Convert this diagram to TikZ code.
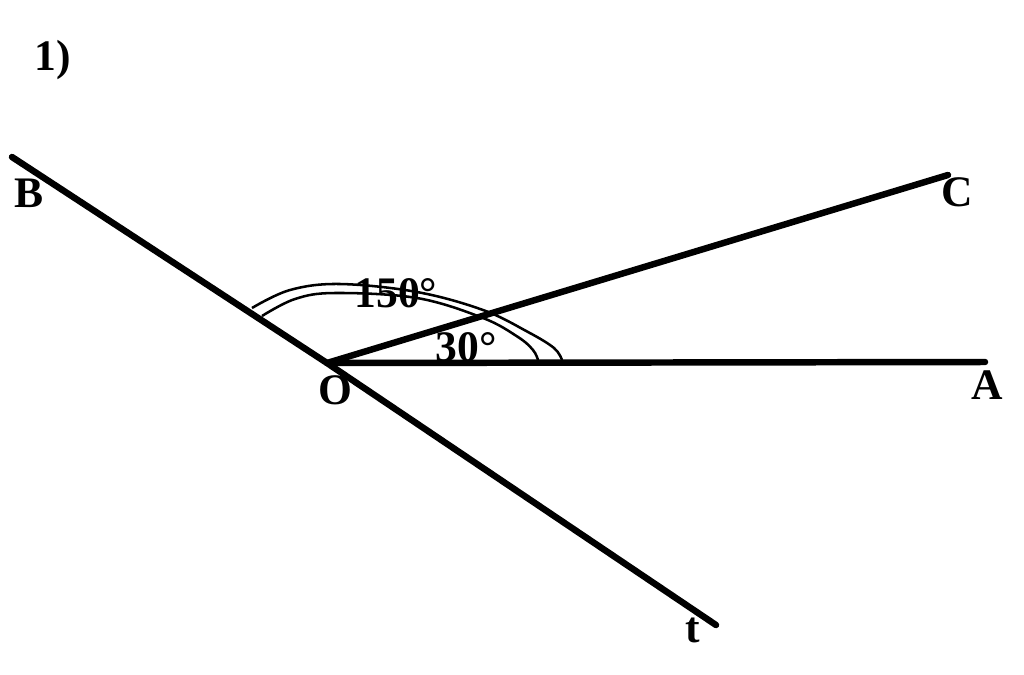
\documentclass[tikz,border=0pt]{standalone}
\usepackage{fontspec}
\setmainfont{Liberation Serif}
\usetikzlibrary{calc}

\begin{document}
\begin{tikzpicture}[x=0.25mm,y=-0.25mm]
\tikzset{ray/.style={black,line width=4.6pt,line cap=round},
 arcline/.style={black,line width=1.8pt},
 lbl/.style={font=\fontsize{31}{31}\selectfont\bfseries,inner sep=0}}
\useasboundingbox (0,0) rectangle (1024,674);
% points
\coordinate (O) at (327,363);
\coordinate (A) at (985,362);
\coordinate (B) at (12,157);
\coordinate (C) at (948,175);
\coordinate (T) at (716,625);
% rays
\draw[ray] (B) -- (O) -- (T);
\draw[ray] (O) -- (A);
\draw[ray] (O) -- (C);
% double arc
\draw[arcline] plot[smooth,tension=0.6] coordinates {(252,308) (290,290) (340,284) (417,292) (483,310) (528,332) (554,348) (562,360)};
\draw[arcline] plot[smooth,tension=0.6] coordinates {(262,316) (295,299) (335,293) (417,298) (483,318) (518,337) (533,350) (538,360)};
% labels
\node[lbl] (one) at (53,60) {1)};
\node[lbl] (lB) at (29,193) {B};
\node[lbl] (lC) at (957,192) {C};
\node[lbl] (lA) at (987,385) {A};
\node[lbl] (lO) at (335,390) {O};
\node[lbl] (lt) at (693,630) {t};
\node[lbl] (big) at (396,293) {150°};
\node[lbl] (small) at (466,347) {30°};
\end{tikzpicture}
\end{document}
